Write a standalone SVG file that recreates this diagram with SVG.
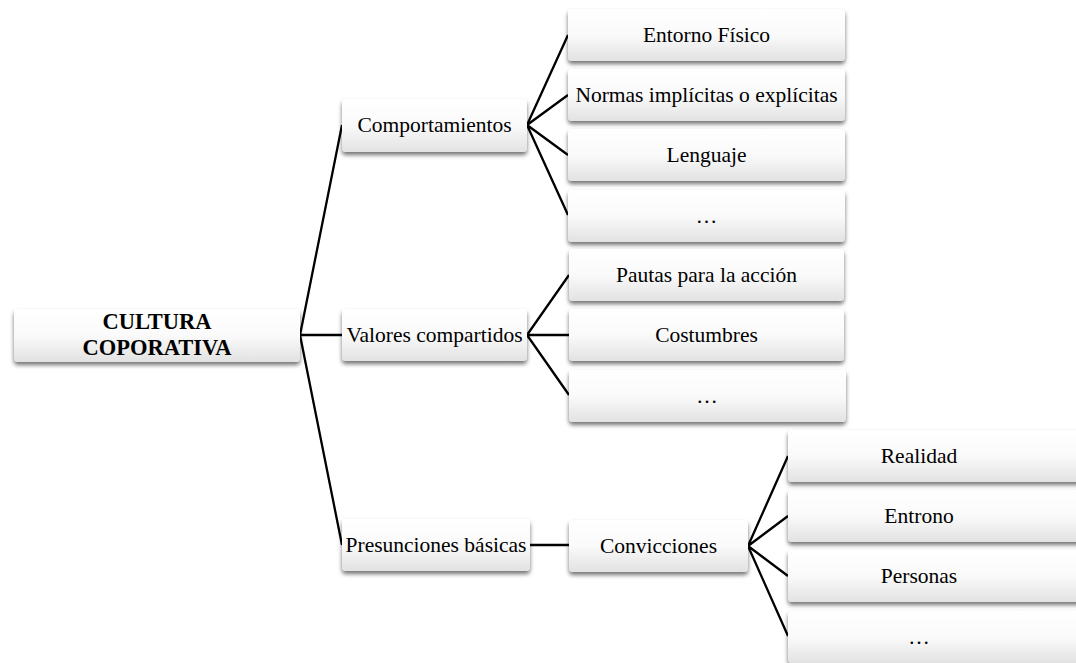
<svg xmlns="http://www.w3.org/2000/svg" width="1076" height="663" viewBox="0 0 1076 663">
<style>
.box{fill:url(#g);filter:url(#sh);}
.t{font-family:"Liberation Serif","Times New Roman",serif;font-size:21.5px;fill:#000;text-anchor:middle;}
.b{font-weight:bold;font-size:22.5px;}
.c{stroke:#000;stroke-width:2.3;fill:none;}
</style>
<defs>
<linearGradient id="g" x1="0" y1="0" x2="0" y2="1">
<stop offset="0" stop-color="#ffffff"/>
<stop offset="0.5" stop-color="#fafafa"/>
<stop offset="1" stop-color="#e2e2e2"/>
</linearGradient>
<filter id="sh" x="-10%" y="-20%" width="120%" height="160%">
<feDropShadow dx="0" dy="3" stdDeviation="2" flood-color="#000" flood-opacity="0.55"/>
</filter>
</defs>
<rect width="1076" height="663" fill="#fff"/>
<g id="connectors">
<path class="c" d="M300 335 L342 125 M300 335 L342 335 M300 335 L342 545"/>
<path class="c" d="M527 125 L568 35 M527 125 L568 95 M527 125 L568 155 M527 125 L568 215"/>
<path class="c" d="M527 335 L569 275 M527 335 L569 335 M527 335 L569 395"/>
<path class="c" d="M530 545 L569 545"/>
<path class="c" d="M748 546 L788 456 M748 546 L788 516 M748 546 L788 576 M748 546 L788 636"/>
</g>
<g id="root"><rect class="box" x="14" y="309" width="286" height="53" rx="4"/><text class="t b" x="157" y="329">CULTURA</text><text class="t b" x="157" y="355">COPORATIVA</text></g>
<g id="comportamientos"><rect class="box" x="342" y="99" width="185" height="53" rx="4"/><text class="t" x="434.5" y="132">Comportamientos</text></g>
<g id="valores"><rect class="box" x="342" y="309" width="185" height="52" rx="4"/><text class="t" x="434.5" y="342">Valores compartidos</text></g>
<g id="presunciones"><rect class="box" x="342" y="519" width="188" height="52" rx="4"/><text class="t" x="436" y="552">Presunciones básicas</text></g>
<g id="convicciones"><rect class="box" x="569" y="520" width="179" height="52" rx="4"/><text class="t" x="658.5" y="553">Convicciones</text></g>
<g id="entorno"><rect class="box" x="568" y="9" width="277" height="52" rx="4"/><text class="t" x="706.5" y="42">Entorno Físico</text></g>
<g id="normas"><rect class="box" x="568" y="69" width="277" height="52" rx="4"/><text class="t" x="706.5" y="102">Normas implícitas o explícitas</text></g>
<g id="lenguaje"><rect class="box" x="568" y="129" width="277" height="52" rx="4"/><text class="t" x="706.5" y="162">Lenguaje</text></g>
<g id="etc1"><rect class="box" x="568" y="190" width="277" height="52" rx="4"/><text class="t" x="706.5" y="223">…</text></g>
<g id="pautas"><rect class="box" x="569" y="249" width="275" height="52" rx="4"/><text class="t" x="706.5" y="282">Pautas para la acción</text></g>
<g id="costumbres"><rect class="box" x="569" y="309" width="275" height="52" rx="4"/><text class="t" x="706.5" y="342">Costumbres</text></g>
<g id="etc2"><rect class="box" x="569" y="370" width="277" height="52" rx="4"/><text class="t" x="707" y="403">…</text></g>
<g id="realidad"><rect class="box" x="788" y="430" width="300" height="52" rx="4"/><text class="t" x="919" y="463">Realidad</text></g>
<g id="entrono"><rect class="box" x="788" y="490" width="300" height="52" rx="4"/><text class="t" x="919" y="523">Entrono</text></g>
<g id="personas"><rect class="box" x="788" y="550" width="300" height="52" rx="4"/><text class="t" x="919" y="583">Personas</text></g>
<g id="etc3"><rect class="box" x="788" y="611" width="300" height="52" rx="4"/><text class="t" x="919" y="644">…</text></g>
</svg>
